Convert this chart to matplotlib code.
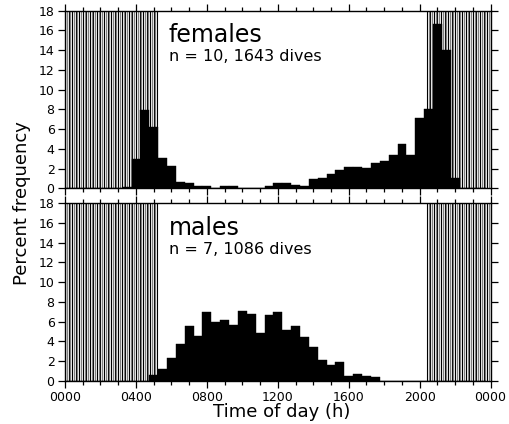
import numpy as np
import matplotlib
matplotlib.use("Agg")
import matplotlib.pyplot as plt

plt.rcParams['font.family'] = ['DejaVu Sans']

# half-hour bins, centred on each hour and half hour
bin_centres = np.arange(0, 24, 0.5)

females = [0, 0, 0, 0, 0, 0, 0, 0.1,
           3.0, 7.9, 6.2, 3.1, 2.3, 0.6, 0.5, 0.2,
           0.2, 0, 0.2, 0.2, 0, 0, 0, 0.2,
           0.5, 0.5, 0.35, 0.2, 0.9, 1.0, 1.4, 1.8,
           2.2, 2.2, 2.1, 2.6, 2.8, 3.4, 4.5, 3.4,
           7.1, 8.0, 16.6, 14.0, 1.0, 0, 0, 0]

males = [0, 0, 0, 0, 0, 0, 0, 0,
         0, 0, 0.6, 1.15, 2.35, 3.7, 5.6, 4.55,
         6.95, 6.0, 6.15, 5.7, 7.1, 6.8, 4.8, 6.7,
         7.0, 5.1, 5.6, 4.45, 3.4, 2.1, 1.6, 1.9,
         0.45, 0.68, 0.47, 0.34, 0, 0, 0, 0,
         0, 0, 0, 0, 0, 0, 0, 0]

# night periods (hours)
night = [(0, 5.3), (20.4, 24)]

panels = [("females", "n = 10, 1643 dives", females),
          ("males", "n = 7, 1086 dives", males)]

xtick_labels = ["0000", "0400", "0800", "1200", "1600", "2000", "0000"]

fig = plt.figure(figsize=(5.1, 4.24), dpi=100)
ax_top = fig.add_axes([0.1275, 0.556, 0.8345, 0.419])
ax_bot = fig.add_axes([0.1275, 0.102, 0.8345, 0.4185])

for ax, (name, sub, vals) in zip([ax_top, ax_bot], panels):
    # night shading: dense vertical lines
    for a, b in night:
        for x in np.arange(a, b + 1e-6, 0.2):
            ax.axvline(x, color='black', lw=0.8, zorder=1)
        for x in np.arange(a + 0.1, b, 0.2):
            ax.axvline(x, color='0.5', lw=0.9, zorder=1)
    ax.bar(bin_centres, vals, width=0.5, color='black', edgecolor='black',
           lw=0.3, zorder=2)
    ax.set_xlim(0, 24)
    ax.set_ylim(0, 18)
    ax.set_yticks(np.arange(0, 19, 2))
    ax.set_xticks(np.arange(0, 25, 4))
    ax.set_xticks(np.arange(0, 25, 1), minor=True)
    ax.tick_params(which='both', direction='out', top=True, right=True,
                   labelsize=9, width=0.9, pad=2.5)
    ax.tick_params(which='major', length=5)
    ax.tick_params(which='minor', length=3)
    for s in ax.spines.values():
        s.set_linewidth(1.0)
    ax.text(5.85, 15.5, name, fontsize=17, va='center', ha='left')
    ax.text(5.85, 13.3, sub, fontsize=11.5, va='center', ha='left')

ax_top.set_xticklabels([])
ax_bot.set_xticklabels(xtick_labels)
ax_bot.set_xlabel("Time of day (h)", fontsize=13, va='top')
ax_bot.xaxis.set_label_coords(0.51, -0.125)
fig.text(0.044, 0.521, "Percent frequency", rotation=90, fontsize=13,
         va='center', ha='center')

fig.savefig("out.png", dpi=100)
